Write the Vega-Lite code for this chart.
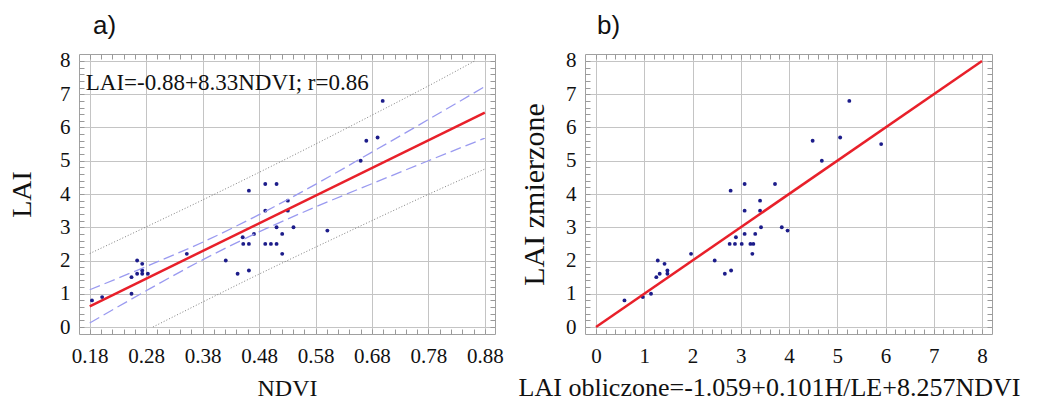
{
  "$schema": "https://vega.github.io/schema/vega-lite/v6.json",
  "background": "white",
  "padding": {"left": 8, "top": 12, "right": 5, "bottom": 2},
  "config": {
    "view": {"stroke": "#a0a0a0", "strokeWidth": 1},
    "axis": {"domain": false, "labelFont": "Liberation Serif", "titleFont": "Liberation Serif", "labelColor": "#111", "titleColor": "#111", "titleFontWeight": "normal", "tickColor": "#999", "tickSize": -5, "gridColor": "#c4c4c4", "gridWidth": 1, "labelFontSize": 21},
    "title": {"font": "Liberation Sans", "fontSize": 26, "fontWeight": "normal", "anchor": "start", "frame": "group", "baseline": "alphabetic", "offset": 11, "color": "#111"}
  },
  "datasets": {
    "a_pts": [
      {"ndvi": 0.184, "lai": 0.8}, {"ndvi": 0.202, "lai": 0.9}, {"ndvi": 0.254, "lai": 1.0}, {"ndvi": 0.254, "lai": 1.5},
      {"ndvi": 0.264, "lai": 2.0}, {"ndvi": 0.264, "lai": 1.6}, {"ndvi": 0.273, "lai": 1.9}, {"ndvi": 0.273, "lai": 1.7},
      {"ndvi": 0.273, "lai": 1.6}, {"ndvi": 0.283, "lai": 1.6}, {"ndvi": 0.352, "lai": 2.2}, {"ndvi": 0.421, "lai": 2.0},
      {"ndvi": 0.442, "lai": 1.6}, {"ndvi": 0.451, "lai": 2.7}, {"ndvi": 0.452, "lai": 2.5}, {"ndvi": 0.462, "lai": 2.5},
      {"ndvi": 0.462, "lai": 4.1}, {"ndvi": 0.462, "lai": 1.7}, {"ndvi": 0.471, "lai": 2.8}, {"ndvi": 0.491, "lai": 4.3},
      {"ndvi": 0.491, "lai": 3.5}, {"ndvi": 0.491, "lai": 2.5}, {"ndvi": 0.501, "lai": 2.5}, {"ndvi": 0.511, "lai": 2.5},
      {"ndvi": 0.511, "lai": 4.3}, {"ndvi": 0.511, "lai": 3.0}, {"ndvi": 0.521, "lai": 2.8}, {"ndvi": 0.521, "lai": 2.2},
      {"ndvi": 0.531, "lai": 3.8}, {"ndvi": 0.531, "lai": 3.5}, {"ndvi": 0.541, "lai": 3.0}, {"ndvi": 0.601, "lai": 2.9},
      {"ndvi": 0.660, "lai": 5.0}, {"ndvi": 0.670, "lai": 5.6}, {"ndvi": 0.690, "lai": 5.7}, {"ndvi": 0.699, "lai": 6.8}
    ],
    "a_fit": [{"ndvi": 0.18, "lai": 0.62}, {"ndvi": 0.88, "lai": 6.45}],
    "a_conf": [
      {"band": "upper", "ndvi": 0.18, "lai": 1.12}, {"band": "upper", "ndvi": 0.28, "lai": 1.82}, {"band": "upper", "ndvi": 0.38, "lai": 2.55},
      {"band": "upper", "ndvi": 0.48, "lai": 3.38}, {"band": "upper", "ndvi": 0.58, "lai": 4.29}, {"band": "upper", "ndvi": 0.68, "lai": 5.26},
      {"band": "upper", "ndvi": 0.78, "lai": 6.24}, {"band": "upper", "ndvi": 0.88, "lai": 7.23},
      {"band": "lower", "ndvi": 0.18, "lai": 0.12}, {"band": "lower", "ndvi": 0.28, "lai": 1.09}, {"band": "lower", "ndvi": 0.38, "lai": 2.02},
      {"band": "lower", "ndvi": 0.48, "lai": 2.86}, {"band": "lower", "ndvi": 0.58, "lai": 3.61}, {"band": "lower", "ndvi": 0.68, "lai": 4.31},
      {"band": "lower", "ndvi": 0.78, "lai": 5.0}, {"band": "lower", "ndvi": 0.88, "lai": 5.68}
    ],
    "a_pred": [
      {"band": "upper", "ndvi": 0.18, "lai": 2.21}, {"band": "upper", "ndvi": 0.28, "lai": 3.01}, {"band": "upper", "ndvi": 0.38, "lai": 3.82},
      {"band": "upper", "ndvi": 0.48, "lai": 4.65}, {"band": "upper", "ndvi": 0.58, "lai": 5.5}, {"band": "upper", "ndvi": 0.68, "lai": 6.37},
      {"band": "upper", "ndvi": 0.78, "lai": 7.25}, {"band": "upper", "ndvi": 0.862, "lai": 8.0},
      {"band": "lower", "ndvi": 0.292, "lai": 0.0}, {"band": "lower", "ndvi": 0.38, "lai": 0.75}, {"band": "lower", "ndvi": 0.48, "lai": 1.59},
      {"band": "lower", "ndvi": 0.58, "lai": 2.4}, {"band": "lower", "ndvi": 0.68, "lai": 3.2}, {"band": "lower", "ndvi": 0.78, "lai": 3.99},
      {"band": "lower", "ndvi": 0.88, "lai": 4.75}
    ],
    "a_eq": [{"ndvi": 0.173, "lai": 7.35, "label": "LAI=-0.88+8.33NDVI; r=0.86"}],
    "b_pts": [
      {"calc": 0.59, "meas": 0.8}, {"calc": 0.97, "meas": 0.9}, {"calc": 1.14, "meas": 1.0}, {"calc": 1.25, "meas": 1.5},
      {"calc": 1.28, "meas": 2.0}, {"calc": 1.32, "meas": 1.6}, {"calc": 1.42, "meas": 1.9}, {"calc": 1.48, "meas": 1.7},
      {"calc": 1.48, "meas": 1.6}, {"calc": 1.97, "meas": 2.2}, {"calc": 2.46, "meas": 2.0}, {"calc": 2.67, "meas": 1.6},
      {"calc": 2.8, "meas": 1.7}, {"calc": 2.79, "meas": 4.1}, {"calc": 2.77, "meas": 2.5}, {"calc": 2.88, "meas": 2.5},
      {"calc": 2.9, "meas": 2.7}, {"calc": 3.02, "meas": 2.5}, {"calc": 3.08, "meas": 2.8}, {"calc": 3.08, "meas": 3.5},
      {"calc": 3.08, "meas": 4.3}, {"calc": 3.2, "meas": 2.5}, {"calc": 3.26, "meas": 2.5}, {"calc": 3.24, "meas": 2.2},
      {"calc": 3.3, "meas": 2.8}, {"calc": 3.4, "meas": 3.8}, {"calc": 3.4, "meas": 3.5}, {"calc": 3.42, "meas": 3.0},
      {"calc": 3.71, "meas": 4.3}, {"calc": 3.85, "meas": 3.0}, {"calc": 3.97, "meas": 2.9}, {"calc": 4.49, "meas": 5.6},
      {"calc": 4.68, "meas": 5.0}, {"calc": 5.06, "meas": 5.7}, {"calc": 5.25, "meas": 6.8}, {"calc": 5.91, "meas": 5.5}
    ],
    "b_fit": [{"calc": 0, "meas": 0}, {"calc": 8, "meas": 8}]
  },
  "spacing": 13,
  "hconcat": [
    {
      "width": 416,
      "height": 280,
      "title": {"text": "a)", "dx": 14},
      "resolve": {"axis": {"x": "independent", "y": "independent"}},
      "layer": [
        {
          "data": {"name": "a_pts"},
          "mark": {"type": "circle", "size": 15, "opacity": 1, "color": "#1c1c8a"},
          "encoding": {
            "x": {"field": "ndvi", "type": "quantitative", "scale": {"domain": [0.161, 0.898], "nice": false, "zero": false},
              "axis": {"orient": "bottom", "title": "NDVI", "titleFontSize": 24, "titlePadding": 10, "labelPadding": 16, "labelFont": "Liberation Serif", "labelFontSize": 21,
                "values": [0.18,0.2,0.22,0.24,0.26,0.28,0.3,0.32,0.34,0.36,0.38,0.4,0.42,0.44,0.46,0.48,0.5,0.52,0.54,0.56,0.58,0.6,0.62,0.64,0.66,0.68,0.7,0.72,0.74,0.76,0.78,0.8,0.82,0.84,0.86,0.88],
                "labelExpr": "abs(datum.value*10 - 0.8 - round(datum.value*10 - 0.8)) < 0.05 ? format(datum.value, '.2f') : ''",
                "gridOpacity": {"condition": {"test": "abs(datum.value*10 - 0.8 - round(datum.value*10 - 0.8)) < 0.05", "value": 1}, "value": 0},
                "labelFlush": false, "labelOverlap": false}},
            "y": {"field": "lai", "type": "quantitative", "scale": {"domain": [-0.21, 8.21], "nice": false, "zero": false},
              "axis": {"orient": "left", "title": "LAI", "titleFontSize": 28, "titlePadding": 23, "labelPadding": 14, "labelFont": "Liberation Serif", "labelFontSize": 21,
                "values": [0,0.2,0.4,0.6,0.8,1,1.2,1.4,1.6,1.8,2,2.2,2.4,2.6,2.8,3,3.2,3.4,3.6,3.8,4,4.2,4.4,4.6,4.8,5,5.2,5.4,5.6,5.8,6,6.2,6.4,6.6,6.8,7,7.2,7.4,7.6,7.8,8],
                "labelExpr": "abs(datum.value - round(datum.value)) < 0.05 ? format(datum.value, 'd') : ''",
                "gridOpacity": {"condition": {"test": "abs(datum.value - round(datum.value)) < 0.05", "value": 1}, "value": 0},
                "labelFlush": false, "labelOverlap": false}}
          }
        },
        {
          "data": {"name": "a_pred"},
          "mark": {"type": "line", "color": "#808080", "strokeWidth": 1, "strokeDash": [1, 2], "interpolate": "monotone"},
          "encoding": {
            "x": {"field": "ndvi", "type": "quantitative", "axis": null},
            "y": {"field": "lai", "type": "quantitative", "axis": null},
            "detail": {"field": "band"}
          }
        },
        {
          "data": {"name": "a_conf"},
          "mark": {"type": "line", "color": "#9a9af0", "strokeWidth": 1.3, "strokeDash": [11, 5], "interpolate": "monotone"},
          "encoding": {
            "x": {"field": "ndvi", "type": "quantitative", "axis": null},
            "y": {"field": "lai", "type": "quantitative", "axis": null},
            "detail": {"field": "band"}
          }
        },
        {
          "data": {"name": "a_fit"},
          "mark": {"type": "line", "color": "#e8202a", "strokeWidth": 2.5},
          "encoding": {
            "x": {"field": "ndvi", "type": "quantitative",
              "axis": {"orient": "top", "title": null, "labels": false, "grid": false,
                "values": [0.18,0.2,0.22,0.24,0.26,0.28,0.3,0.32,0.34,0.36,0.38,0.4,0.42,0.44,0.46,0.48,0.5,0.52,0.54,0.56,0.58,0.6,0.62,0.64,0.66,0.68,0.7,0.72,0.74,0.76,0.78,0.8,0.82,0.84,0.86,0.88]}},
            "y": {"field": "lai", "type": "quantitative",
              "axis": {"orient": "right", "title": null, "labels": false, "grid": false,
                "values": [0,0.2,0.4,0.6,0.8,1,1.2,1.4,1.6,1.8,2,2.2,2.4,2.6,2.8,3,3.2,3.4,3.6,3.8,4,4.2,4.4,4.6,4.8,5,5.2,5.4,5.6,5.8,6,6.2,6.4,6.6,6.8,7,7.2,7.4,7.6,7.8,8]}}
          }
        },
        {
          "data": {"name": "a_eq"},
          "mark": {"type": "text", "font": "Liberation Serif", "fontSize": 23, "align": "left", "baseline": "middle", "color": "#111"},
          "encoding": {
            "x": {"field": "ndvi", "type": "quantitative", "axis": null},
            "y": {"field": "lai", "type": "quantitative", "axis": null},
            "text": {"field": "label"}
          }
        }
      ]
    },
    {
      "width": 407,
      "height": 280,
      "title": {"text": "b)", "dx": 12},
      "resolve": {"axis": {"x": "independent", "y": "independent"}},
      "layer": [
        {
          "data": {"name": "b_pts"},
          "mark": {"type": "circle", "size": 15, "opacity": 1, "color": "#1c1c8a"},
          "encoding": {
            "x": {"field": "calc", "type": "quantitative", "scale": {"domain": [-0.228, 8.207], "nice": false, "zero": false},
              "axis": {"orient": "bottom", "title": "LAI obliczone=-1.059+0.101H/LE+8.257NDVI", "titleFontSize": 26, "titlePadding": 8, "titleX": 184, "titleAlign": "center", "labelPadding": 16, "labelFont": "Liberation Serif", "labelFontSize": 21,
                "values": [0,0.2,0.4,0.6,0.8,1,1.2,1.4,1.6,1.8,2,2.2,2.4,2.6,2.8,3,3.2,3.4,3.6,3.8,4,4.2,4.4,4.6,4.8,5,5.2,5.4,5.6,5.8,6,6.2,6.4,6.6,6.8,7,7.2,7.4,7.6,7.8,8],
                "labelExpr": "abs(datum.value - round(datum.value)) < 0.05 ? format(datum.value, 'd') : ''",
                "gridOpacity": {"condition": {"test": "abs(datum.value - round(datum.value)) < 0.05", "value": 1}, "value": 0},
                "labelFlush": false, "labelOverlap": false}},
            "y": {"field": "meas", "type": "quantitative", "scale": {"domain": [-0.21, 8.21], "nice": false, "zero": false},
              "axis": {"orient": "left", "title": "LAI zmierzone", "titleFontSize": 30, "titlePadding": 16, "labelPadding": 14, "labelFont": "Liberation Serif", "labelFontSize": 21,
                "values": [0,0.2,0.4,0.6,0.8,1,1.2,1.4,1.6,1.8,2,2.2,2.4,2.6,2.8,3,3.2,3.4,3.6,3.8,4,4.2,4.4,4.6,4.8,5,5.2,5.4,5.6,5.8,6,6.2,6.4,6.6,6.8,7,7.2,7.4,7.6,7.8,8],
                "labelExpr": "abs(datum.value - round(datum.value)) < 0.05 ? format(datum.value, 'd') : ''",
                "gridOpacity": {"condition": {"test": "abs(datum.value - round(datum.value)) < 0.05", "value": 1}, "value": 0},
                "labelFlush": false, "labelOverlap": false}}
          }
        },
        {
          "data": {"name": "b_fit"},
          "mark": {"type": "line", "color": "#e8202a", "strokeWidth": 2.5},
          "encoding": {
            "x": {"field": "calc", "type": "quantitative",
              "axis": {"orient": "top", "title": null, "labels": false, "grid": false,
                "values": [0,0.2,0.4,0.6,0.8,1,1.2,1.4,1.6,1.8,2,2.2,2.4,2.6,2.8,3,3.2,3.4,3.6,3.8,4,4.2,4.4,4.6,4.8,5,5.2,5.4,5.6,5.8,6,6.2,6.4,6.6,6.8,7,7.2,7.4,7.6,7.8,8]}},
            "y": {"field": "meas", "type": "quantitative",
              "axis": {"orient": "right", "title": null, "labels": false, "grid": false,
                "values": [0,0.2,0.4,0.6,0.8,1,1.2,1.4,1.6,1.8,2,2.2,2.4,2.6,2.8,3,3.2,3.4,3.6,3.8,4,4.2,4.4,4.6,4.8,5,5.2,5.4,5.6,5.8,6,6.2,6.4,6.6,6.8,7,7.2,7.4,7.6,7.8,8]}}
          }
        }
      ]
    }
  ]
}
